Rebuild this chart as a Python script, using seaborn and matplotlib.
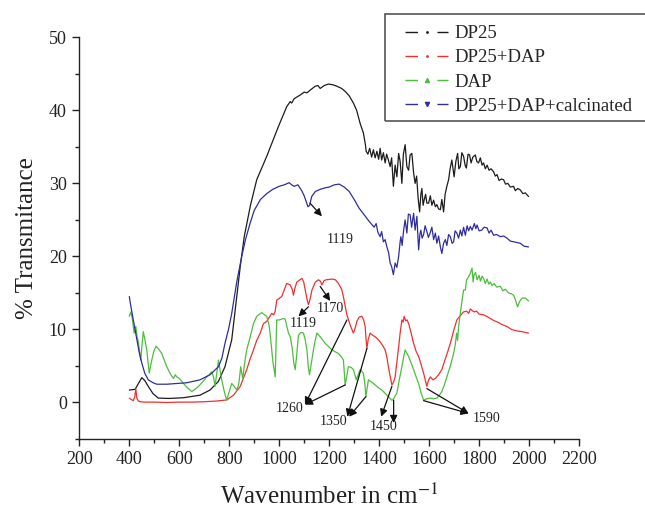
import pandas as pd
import matplotlib.pyplot as plt
import seaborn as sns
from matplotlib.lines import Line2D
from matplotlib.patches import Rectangle

# FTIR spectra, values
dp25_x = [400, 423, 440, 450, 462, 476, 495, 516, 560, 617, 683, 723, 757, 783, 810, 830, 844, 860, 885, 910,
          950, 997, 1030, 1044, 1050, 1060, 1084, 1100, 1111, 1125, 1144, 1155, 1164, 1180, 1197, 1215, 1231, 1250,
          1264, 1280, 1297, 1310, 1324, 1337, 1345, 1348, 1355, 1362, 1370, 1377, 1384, 1391, 1398, 1404, 1410,
          1417, 1424, 1430, 1437, 1444, 1450, 1457, 1464, 1471, 1478, 1484, 1491, 1497, 1504, 1511, 1518, 1524,
          1531, 1538, 1544, 1550, 1556, 1562, 1567, 1571, 1576, 1580, 1586, 1591, 1598, 1605, 1611, 1618, 1625,
          1631, 1638, 1645, 1651, 1658, 1664, 1671, 1678, 1684, 1691, 1700, 1707, 1714, 1719, 1725, 1731, 1738,
          1744, 1749, 1756, 1762, 1768, 1775, 1785, 1791, 1798, 1805, 1812, 1818, 1825, 1832, 1840, 1848, 1858,
          1865, 1872, 1880, 1890, 1898, 1906, 1915, 1925, 1938, 1945, 1955, 1965, 1975, 1985, 1998]
dp25_y = [1.7, 1.8, 2.8, 3.4, 3.0, 2.2, 1.2, 0.6, 0.55, 0.65, 1.0, 1.7, 2.9, 4.9, 8.6, 14.5, 18.6, 22.7, 27.0, 30.5,
          33.7, 37.8, 40.5, 41.2, 41.0, 41.6, 42.1, 42.5, 42.4, 42.8, 43.3, 43.4, 43.0, 43.4, 43.6, 43.5, 43.3, 43.0,
          42.6, 42.0, 41.0, 40.0, 38.2, 36.9, 35.3, 34.4, 34.0, 34.8, 33.6, 34.6, 33.5, 34.4, 33.3, 34.8, 33.2,
          34.2, 32.8, 34.0, 33.2, 32.3, 33.5, 29.6, 32.5, 30.9, 34.1, 33.0, 30.0, 34.0, 35.3, 32.3, 31.8, 33.9,
          34.1, 31.4, 30.0, 31.0, 28.0, 26.1, 28.5, 29.3, 27.0, 27.7, 28.5, 27.3, 27.3, 28.3, 27.0, 27.7, 26.8,
          27.1, 26.5, 26.4, 27.8, 26.1, 28.5, 29.6, 30.5, 32.0, 33.2, 30.9, 33.0, 34.1, 32.0, 32.3, 34.2, 33.7,
          32.5, 32.1, 34.0, 33.9, 32.8, 33.6, 33.9, 33.0, 32.8, 33.5, 32.5, 32.8, 32.0, 32.5, 31.8, 32.0, 31.6,
          31.0, 31.2, 30.4, 30.6, 30.5, 29.9, 30.0, 29.5, 29.6, 29.0, 29.3, 29.1, 28.6, 28.7, 28.2]

dp25_dap_x = [400, 408, 416, 422, 426, 430, 436, 443, 460, 500, 550, 600, 650, 700, 750, 790, 817, 844, 870, 884,
              897, 910, 924, 937, 950, 970, 978, 984, 990, 1010, 1030, 1044, 1052, 1057, 1064, 1071, 1091, 1098,
              1104, 1112, 1117, 1124, 1131, 1145, 1157, 1165, 1171, 1180, 1188, 1211, 1225, 1237, 1250, 1257, 1265,
              1271, 1284, 1297, 1305, 1311, 1320, 1331, 1338, 1344, 1348, 1351, 1356, 1364, 1374, 1384, 1394, 1404,
              1414, 1424, 1431, 1437, 1444, 1451, 1458, 1464, 1471, 1478, 1484, 1491, 1496, 1500, 1506, 1512, 1518,
              1528, 1538, 1548, 1558, 1568, 1578, 1585, 1591, 1597, 1605, 1615, 1625, 1638, 1651, 1665, 1675, 1685,
              1698, 1711, 1725, 1738, 1750, 1758, 1765, 1772, 1780, 1790, 1800, 1818, 1830, 1845, 1860, 1875, 1890,
              1912, 1930, 1950, 1970, 1998]
dp25_dap_y = [0.6, 0.4, 0.25, 0.8, 1.9, 0.6, 0.2, 0.1, 0.05, 0.05, 0.0, 0.05, 0.05, 0.1, 0.2, 0.35, 1.0, 2.2, 4.5, 6.0,
              7.2, 8.5, 9.5, 10.8, 11.1, 12.2, 12.0, 12.5, 14.0, 14.5, 16.3, 16.1, 15.5, 14.7, 15.8, 16.5, 17.0, 16.5,
              15.4, 14.0, 13.4, 14.2, 15.4, 16.5, 16.8, 16.6, 16.1, 16.7, 16.8, 16.9, 16.8, 16.3, 15.5, 14.5, 13.0,
              12.0, 10.6, 9.5, 10.3, 11.1, 11.7, 11.8, 11.3, 10.4, 8.5, 7.4, 8.6, 9.5, 9.2, 9.0, 8.7, 8.3,
              7.8, 7.2, 6.2, 4.9, 3.6, 2.4, 2.8, 3.5, 5.5, 7.6, 9.5, 11.3, 11.0, 11.8, 11.2, 11.3, 10.8,
              9.5, 8.1, 7.0, 6.3, 5.2, 4.0, 3.0, 2.2, 3.0, 3.5, 3.1, 3.3, 3.8, 4.5, 6.0, 7.0, 8.1,
              9.8, 11.3, 11.9, 12.4, 12.5, 12.2, 12.8, 12.6, 12.4, 12.5, 12.1, 12.0, 11.8, 11.5, 11.2, 11.0, 10.7,
              10.4, 10.0, 9.8, 9.7, 9.5]

dap_x = [400, 406, 412, 419, 426, 431, 436, 441, 446, 450, 456, 463, 470, 475, 480, 485, 490, 498, 507, 518, 530,
         540, 550, 563, 570, 577, 584, 590, 600, 617, 633, 650, 663, 677, 693, 710, 720, 730, 737, 743, 750, 757,
         763, 770, 780, 790, 800, 810, 820, 830, 838, 846, 850, 854, 862, 870, 884, 897, 910, 930, 950, 960, 966,
         975, 984, 990, 1000, 1017, 1024, 1037, 1044, 1052, 1058, 1064, 1070, 1077, 1087, 1097, 1104, 1111, 1116,
         1121, 1127, 1137, 1144, 1151, 1164, 1184, 1211, 1237, 1250, 1257, 1261, 1264, 1270, 1277, 1288, 1297,
         1303, 1308, 1316, 1324, 1337, 1343, 1347, 1352, 1357, 1370, 1384, 1398, 1411, 1431, 1445, 1451, 1458,
         1464, 1471, 1480, 1491, 1498, 1504, 1510, 1518, 1528, 1538, 1548, 1558, 1568, 1578, 1590, 1605, 1618,
         1631, 1641, 1651, 1661, 1671, 1685, 1698, 1705, 1710, 1714, 1718, 1724, 1730, 1738, 1745, 1750, 1758,
         1765, 1772, 1776, 1780, 1786, 1792, 1800, 1806, 1812, 1818, 1825, 1832, 1839, 1845, 1852, 1860, 1870,
         1885, 1895, 1905, 1918, 1928, 1938, 1946, 1954, 1962, 1972, 1985, 1998]
dap_y = [11.8, 12.4, 11.5, 9.5, 10.4, 9.0, 8.3, 7.0, 5.8, 7.5, 9.7, 8.5, 7.2, 5.5, 4.0, 5.0, 5.8, 7.0, 7.7, 7.3, 6.7,
         5.8, 4.9, 4.0, 3.6, 3.3, 3.8, 3.5, 3.3, 2.6, 2.0, 1.5, 1.8, 2.2, 2.8, 3.5, 3.8, 4.2, 3.5, 2.2, 4.0, 5.8,
         4.5, 3.1, 1.5, 0.3, 1.5, 2.6, 2.2, 1.7, 2.5, 4.9, 4.0, 3.3, 5.5, 7.2, 9.0, 10.8, 11.8, 12.3, 11.8, 10.5, 8.6,
         5.5, 3.5, 11.3, 11.3, 11.5, 11.4, 9.5, 9.0, 7.5, 5.5, 4.5, 6.5, 9.2, 9.6, 9.5, 8.6, 7.2, 5.0,
         3.8, 5.0, 7.2, 8.5, 9.5, 9.0, 8.1, 7.2, 6.7, 6.2, 5.8, 3.8, 2.4, 3.5, 4.9, 4.8, 4.5,
         3.8, 3.1, 3.8, 4.5, 4.0, 2.5, 0.8, 2.0, 3.1, 2.8, 2.4, 2.0, 1.7, 1.0, 0.5, 0.3, 0.5,
         0.9, 1.3, 3.0, 4.9, 6.2, 7.2, 6.8, 6.3, 5.4, 4.5, 3.5, 2.6, 1.3, 0.3, 0.5, 0.6, 0.5,
         0.6, 1.0, 1.5, 2.4, 3.5, 5.0, 6.7, 8.0, 9.5, 8.5, 10.4, 12.0, 13.5, 15.4, 15.4, 16.8, 17.2,
         17.7, 18.4, 16.5, 17.5, 17.8, 16.8, 17.4, 16.6, 17.3, 17.0, 16.3, 16.9, 16.2, 16.5, 16.0, 16.3, 15.8,
         15.9, 15.3, 15.5, 15.0, 14.9, 14.7, 14.0, 13.1, 13.8, 14.3, 14.3, 13.9]

calc_x = [400, 408, 416, 430, 440, 450, 462, 476, 495, 510, 550, 590, 630, 683, 723, 757, 770, 783, 797, 810, 823,
          830, 837, 850, 865, 884, 900, 925, 950, 975, 1000, 1020, 1040, 1050, 1060, 1075, 1090, 1100, 1108, 1115,
          1122, 1130, 1145, 1165, 1185, 1200, 1220, 1240, 1260, 1280, 1300, 1320, 1340, 1360, 1380, 1388, 1395,
          1404, 1410, 1417, 1424, 1431, 1438, 1444, 1450, 1457, 1464, 1471, 1478, 1484, 1487, 1492, 1498, 1504,
          1511, 1517, 1524, 1530, 1538, 1544, 1551, 1558, 1563, 1567, 1572, 1578, 1584, 1591, 1597, 1604, 1611,
          1618, 1625, 1631, 1638, 1645, 1651, 1658, 1665, 1671, 1678, 1685, 1692, 1698, 1704, 1711, 1718, 1725,
          1731, 1738, 1745, 1752, 1758, 1765, 1772, 1781, 1787, 1792, 1800, 1811, 1820, 1832, 1840, 1848, 1858,
          1870, 1885, 1898, 1912, 1925, 1938, 1950, 1965, 1980, 1998]
calc_y = [14.5, 12.8, 11.3, 8.6, 6.8, 5.4, 4.0, 3.1, 2.7, 2.5, 2.5, 2.6, 2.7, 3.1, 3.8, 4.9, 6.0, 8.1, 10.0, 12.2, 15.0,
          16.5, 17.7, 20.0, 22.3, 24.6, 26.3, 27.8, 28.6, 29.2, 29.6, 29.8, 30.1, 29.8, 29.6, 29.8, 29.0, 28.3, 27.5,
          26.8, 27.0, 28.2, 28.9, 29.2, 29.4, 29.5, 29.8, 29.9, 29.5, 28.9, 27.8, 26.6, 25.7, 24.8, 24.0, 24.5, 23.3,
          22.7, 23.4, 22.0, 22.3, 21.3, 20.5, 19.1, 18.6, 17.5, 19.1, 18.5, 20.0, 22.0, 22.7, 21.5, 23.6, 25.0,
          23.2, 25.8, 25.7, 24.0, 25.9, 23.6, 25.5, 20.9, 23.0, 23.6, 22.5, 23.0, 24.2, 23.4, 22.6, 23.2, 24.0,
          22.3, 23.2, 21.8, 22.8, 21.3, 20.4, 21.8, 22.3, 21.5, 23.0, 22.7, 21.8, 22.0, 23.5, 23.2, 22.5, 23.6,
          22.8, 24.0, 22.9, 24.2, 23.5, 24.1, 23.6, 24.5, 23.8, 24.3, 23.5, 23.6, 24.0, 23.9, 23.2, 23.6, 22.9,
          23.0, 22.7, 22.8, 22.5, 22.1, 22.0, 21.9, 21.8, 21.4, 21.3]

labels = ['DP25', 'DP25+DAP', 'DAP', 'DP25+DAP+calcinated']
colors = ['#1c1c1c', '#f03030', '#4cbf3c', '#2e2e9e']
markers = ['.', '.', '^', 'v']

# peak labels: text, text position, arrow tails, arrow head
peak_labels = ['1119', '1119', '1170', '1260', '1350', '1450', '1590']
label_pos = [(1245, 22.3), (1096, 10.8), (1204, 12.9), (1043, -0.8), (1219, -2.6), (1418, -3.3), (1832, -2.2)]
arrow_tails = [[(1123, 27.3)], [(1117, 13.1)], [(1164, 15.9)], [(1271, 11.3), (1264, 2.4)],
               [(1351, 7.4), (1347, 0.8)], [(1451, 2.2)], [(1591, 1.9), (1578, 0.25)]]
arrow_heads = [[(1171, 25.5)], [(1077, 11.8)], [(1204, 13.9)], [(1103, -0.3), (1103, -0.3)],
               [(1273, -1.95), (1280, -1.95)], [(1408, -1.95)], [(1758, -1.5), (1758, -1.5)]]
extra_arrow = ((1458, 0.3), (1458, -2.8))

df = pd.concat([
    pd.DataFrame({'x': dp25_x, 'y': dp25_y, 'sample': labels[0]}),
    pd.DataFrame({'x': dp25_dap_x, 'y': dp25_dap_y, 'sample': labels[1]}),
    pd.DataFrame({'x': dap_x, 'y': dap_y, 'sample': labels[2]}),
    pd.DataFrame({'x': calc_x, 'y': calc_y, 'sample': labels[3]}),
])

sns.set_theme(style='ticks')
plt.rcParams['font.family'] = ['Liberation Serif', 'DejaVu Serif']
plt.rcParams['mathtext.fontset'] = 'stix'

fig = plt.figure(figsize=(6.45, 5.12), dpi=100)
ax = fig.add_axes([0.123, 0.1426, 0.7747, 0.7845])

sns.lineplot(data=df, x='x', y='y', hue='sample', hue_order=labels, palette=colors,
             estimator=None, sort=False, linewidth=0.9, legend=False, ax=ax)

for txt, pos, tails, heads in zip(peak_labels, label_pos, arrow_tails, arrow_heads):
    ax.text(pos[0], pos[1], txt, ha='center', va='center', fontsize=10, color='#222')
    for t, h in zip(tails, heads):
        ax.annotate('', xy=h, xytext=t,
                    arrowprops=dict(arrowstyle='-|>', color='#111', lw=0.9, mutation_scale=11,
                                    shrinkA=0, shrinkB=0))
ax.annotate('', xy=extra_arrow[1], xytext=extra_arrow[0],
            arrowprops=dict(arrowstyle='-|>', color='#111', lw=0.9, mutation_scale=11, shrinkA=0, shrinkB=0))

ax.set_xlim(200, 2200)
ax.set_ylim(-5, 50)
ax.set_xticks(range(200, 2201, 200))
ax.set_xticks(range(300, 2200, 200), minor=True)
ax.set_yticks(range(0, 51, 10))
ax.set_yticks(range(-5, 50, 10), minor=True)
ax.tick_params(which='major', direction='out', length=5, width=1, labelsize=13, colors='#222', pad=4)
ax.tick_params(which='minor', direction='out', length=2.6, width=1, colors='#222')
for s in ['left', 'bottom']:
    ax.spines[s].set_linewidth(1.0)
    ax.spines[s].set_color('#222')
sns.despine(ax=ax)

ax.set_xlabel('Wavenumber in cm$^{-1}$', fontsize=18, color='#222', labelpad=11)
ax.set_ylabel('% Transmitance', fontsize=18, color='#222', labelpad=8)

handles = [Line2D([], [], color=c, lw=1, linestyle=(0, (9, 14)), marker=m,
                  markersize=3 if m != '.' else 2) for c, m in zip(colors, markers)]
fig.legend(handles, labels, loc='upper left', bbox_to_anchor=(405 / 645, 1 - 25 / 512),
           frameon=False, fontsize=13.5, handlelength=2.3, handletextpad=0.35,
           borderpad=0, borderaxespad=0, labelspacing=0.38)
fig.patches.append(Rectangle((385 / 645, 1 - 121 / 512), 262 / 645, 107 / 512, transform=fig.transFigure,
                             fill=False, edgecolor='#555', lw=1.2))

fig.savefig('out.png', dpi=100)
